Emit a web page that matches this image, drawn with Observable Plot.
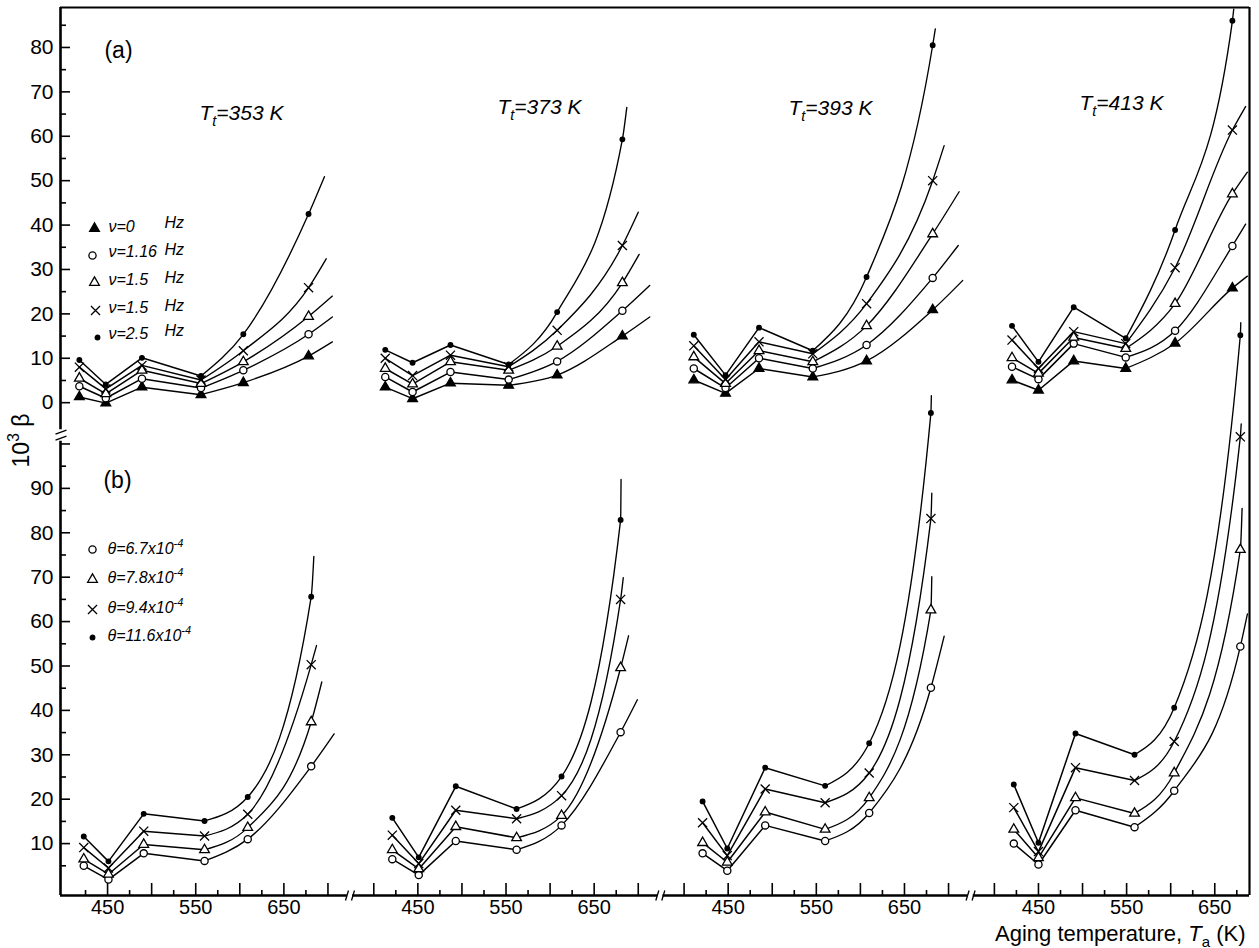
<!DOCTYPE html>
<html>
<head>
<meta charset="utf-8">
<script src="https://cdn.jsdelivr.net/npm/d3@7"></script>
<script src="https://cdn.jsdelivr.net/npm/@observablehq/plot@0.6"></script>
<style>
  html, body { margin: 0; padding: 0; background: #fff; }
  #chart { width: 1259px; height: 948px; }
</style>
</head>
<body>
<div id="chart"></div>
<script>
// ================= DATA =================
// Test temperatures of the four groups
const Tt = [353, 373, 393, 413];

// (a) legend: symbol order  ▲ ν=0, ○ ν=1.16, Δ ν=1.5, x ν=1.5, ● ν=2.5 Hz
const seriesA = ["ν=0", "ν=1.16", "ν=1.5", "ν=1.5", "ν=2.5"];
const symA = ["triFill", "circle", "tri", "times", "dot"];
// (b) legend: ○ 6.7, Δ 7.8, x 9.4, ● 11.6 (x10^-4)
const seriesB = ["6.7", "7.8", "9.4", "11.6"];
const symB = ["circle", "tri", "times", "dot"];

// Aging temperatures (K) of the six measured points in each group
const tempsA = [
  [418, 448, 489, 556, 604, 678],
  [413, 444, 487, 553, 608, 682],
  [411, 447, 485, 546, 607, 682],
  [420, 450, 490, 549, 605, 670]
];
const tempsB = [
  [423, 451, 491, 560, 609, 681],
  [421, 451, 493, 562, 613, 680],
  [421, 449, 492, 560, 610, 680],
  [422, 450, 492, 559, 604, 679]
];

// (a) 10^3 beta, one row per series (▲, ○, Δ, x, ●)
const betaA353 = [
  [1.3, -0.1, 3.5, 1.8, 4.5, 10.5],
  [3.7, 1.0, 5.4, 3.3, 7.3, 15.4],
  [5.5, 2.0, 7.3, 4.3, 9.2, 19.4],
  [8.0, 3.1, 8.4, 5.1, 11.7, 25.9],
  [9.6, 4.1, 10.1, 6.0, 15.4, 42.5]
];
const betaA373 = [
  [3.5, 0.9, 4.4, 3.9, 6.2, 15.0],
  [5.8, 2.4, 6.9, 5.2, 9.3, 20.7],
  [7.7, 4.2, 9.2, 7.3, 12.7, 27.0],
  [10.0, 6.1, 10.7, 8.1, 16.3, 35.4],
  [11.9, 9.0, 13.0, 8.6, 20.4, 59.3]
];
const betaA393 = [
  [5.1, 2.1, 7.7, 5.8, 9.4, 20.9],
  [7.7, 3.3, 10.0, 7.7, 13.0, 28.1],
  [10.3, 4.3, 11.7, 9.2, 17.3, 38.0],
  [12.8, 5.2, 13.7, 11.0, 22.3, 50.0],
  [15.3, 6.2, 16.9, 11.7, 28.3, 80.5]
];
const betaA413 = [
  [5.1, 2.8, 9.4, 7.7, 13.4, 25.8],
  [8.1, 5.3, 13.3, 10.2, 16.2, 35.3],
  [10.1, 6.6, 14.7, 12.2, 22.3, 47.0],
  [14.1, 7.7, 16.0, 13.3, 30.4, 61.4],
  [17.3, 9.2, 21.5, 14.5, 38.9, 86.0]
];
// (a) where each fitted curve ends beyond the last point: [T, 10^3 beta]
const endA353 = [[705, 13.7], [705, 19.3], [705, 24.0], [698, 32.4], [696, 50.9]];
const endA373 = [[713, 19.3], [713, 26.4], [701, 33.4], [700, 42.9], [687, 66.5]];
const endA393 = [[716, 27.5], [711, 35.4], [712, 47.5], [695, 57.9], [685, 84.2]];
const endA413 = [[687, 28.5], [685, 40.2], [687, 51.9], [685, 66.7], [671.5, 88.6]];

// (b) 10^3 beta, one row per series (○, Δ, x, ●)
const betaB353 = [
  [5.0, 1.9, 7.8, 6.1, 11.0, 27.4],
  [6.5, 3.1, 9.8, 8.6, 13.6, 37.4],
  [9.1, 4.5, 12.8, 11.7, 16.6, 50.3],
  [11.6, 6.0, 16.7, 15.1, 20.5, 65.6]
];
const betaB373 = [
  [6.5, 2.9, 10.6, 8.6, 14.1, 35.1],
  [8.6, 4.3, 13.8, 11.3, 16.3, 49.6],
  [11.9, 5.5, 17.5, 15.6, 20.8, 65.0],
  [15.8, 6.9, 22.9, 17.8, 25.1, 82.9]
];
const betaB393 = [
  [7.8, 3.9, 14.1, 10.6, 16.9, 45.1],
  [10.2, 5.8, 17.1, 13.2, 20.3, 62.6],
  [14.7, 7.3, 22.3, 19.2, 25.9, 83.2],
  [19.5, 8.9, 27.1, 23.0, 32.6, 107.0]
];
const betaB413 = [
  [10.0, 5.3, 17.5, 13.7, 21.9, 54.4],
  [13.2, 6.8, 20.3, 16.8, 25.9, 76.2],
  [18.1, 8.2, 27.1, 24.2, 33.0, 101.6],
  [23.3, 10.2, 34.8, 30.0, 40.6, 124.5]
];
const endB353 = [[707, 34.7], [693, 46.4], [687, 54.6], [684, 74.7]];
const endB373 = [[699, 42.4], [689, 56.8], [683, 69.9], [680.5, 92.0]];
const endB393 = [[695, 56.7], [681, 70.1], [681, 88.9], [680.5, 110.9]];
const endB413 = [[687, 61.7], [681, 85.5], [680, 104.5], [679.5, 127.3]];

// Axis ticks
const xTickT = [400, 425, 450, 475, 500, 525, 550, 575, 600, 625, 650, 675, 700];
const xLabelT = [450, 550, 650];
const yTicksA = [0, 5, 10, 15, 20, 25, 30, 35, 40, 45, 50, 55, 60, 65, 70, 75, 80, 85];
const yLabelsA = [0, 10, 20, 30, 40, 50, 60, 70, 80];
const yTicksB = [5, 10, 15, 20, 25, 30, 35, 40, 45, 50, 55, 60, 65, 70, 75, 80, 85, 90, 95, 100];
const yLabelsB = [10, 20, 30, 40, 50, 60, 70, 80, 90];

// ================= LAYOUT =================
const W = 1259, H = 948, ML = 60, MR = 10, MT = 7, MB = 53;
const innerW = W - ML - MR, innerH = H - MT - MB;
const panelOffset = 352;      // virtual K between the four broken x segments
const offsetA = 109.3;        // virtual y offset of panel (a) above panel (b)
const breakT = 725;           // x-axis break inside each group
const xDomain = [396.6, 1745.4];
const yDomain = [-1.69, 198.3];
const yBreak = 101.9, yGapHi = 103.2, yGapLo = 100.6;
const FONT = "Liberation Sans, Arial, Helvetica, sans-serif";

const betaA = [betaA353, betaA373, betaA393, betaA413];
const endA = [endA353, endA373, endA393, endA413];
const betaB = [betaB353, betaB373, betaB393, betaB413];
const endB = [endB353, endB373, endB393, endB413];

function buildRows(temps, betas, ends, syms, part, yOff) {
  const pts = [], straight = [], smooth = [];
  temps.forEach((tk, k) => {
    betas[k].forEach((vals, s) => {
      const key = `${part}${k}-${s}`;
      vals.forEach((v, i) => {
        const row = {u: tk[i] + k * panelOffset, y: v + yOff, key, sym: syms[s]};
        pts.push(row);
        if (i <= 3) straight.push(row);
        if (i >= 3) smooth.push(row);
      });
      const [eT, eV] = ends[k][s];
      smooth.push({u: eT + k * panelOffset, y: eV + yOff, key, sym: syms[s]});
    });
  });
  return {pts, straight, smooth};
}
const A = buildRows(tempsA, betaA, endA, symA, "A", offsetA);
const B = buildRows(tempsB, betaB, endB, symB, "B", 0);
const allPts = A.pts.concat(B.pts);
const allStraight = A.straight.concat(B.straight);
const allSmooth = A.smooth.concat(B.smooth);

const symStyle = {
  triFill: {symbol: "triangle", fill: "black", stroke: "black", r: 3.6},
  circle:  {symbol: "circle", fill: "white", stroke: "black", r: 3.6},
  tri:     {symbol: "triangle", fill: "white", stroke: "black", r: 3.6},
  times:   {symbol: "times", fill: "none", stroke: "black", r: 4.2},
  dot:     {symbol: "circle", fill: "black", stroke: "black", r: 2.3}
};

// x ticks for every group
const xTicks = [];
for (let k = 0; k < 4; k++) {
  const left = k === 0 ? xDomain[0] : breakT + (k - 1) * panelOffset;
  const right = k === 3 ? xDomain[1] : breakT + k * panelOffset;
  xTickT.forEach(t => {
    const u = t + k * panelOffset;
    if (u > left + 6 && u < right - 6) xTicks.push({u, major: t % 50 === 0});
  });
}
const xLabels = [];
for (let k = 0; k < 4; k++) xLabelT.forEach(t => xLabels.push({u: t + k * panelOffset, t}));

// bottom axis segments with gaps at the breaks
const xSegs = [];
{
  let start = xDomain[0];
  for (let k = 0; k < 3; k++) {
    const b = breakT + k * panelOffset;
    xSegs.push([start, b - 3]);
    start = b + 3;
  }
  xSegs.push([start, xDomain[1]]);
}
const xBreaks = [0, 1, 2].map(k => breakT + k * panelOffset);

const xBreakSym = {draw(ctx) { ctx.moveTo(-4.5, 5); ctx.lineTo(-1.5, -5); ctx.moveTo(1.5, 5); ctx.lineTo(4.5, -5); }};
const yBreakSym = {draw(ctx) { ctx.moveTo(-5, -1.5); ctx.lineTo(6, -5.5); ctx.moveTo(-5, 4.5); ctx.lineTo(6, 0.5); }};

const ann = (str, px, py, o = {}) => Plot.text([str], {
  text: d => d, frameAnchor: "top-left", dx: px - ML, dy: py - MT,
  textAnchor: "middle", lineAnchor: "middle",
  fontFamily: FONT, fill: "black", ...o
});
const legendDot = (name, px, py) => Plot.dot([0], {
  frameAnchor: "top-left", dx: px - ML, dy: py - MT, strokeWidth: 1.3, ...symStyle[name]
});

// legend layout
const legA = [[94, 228, 226, 222], [92, 255, 251, 249], [94, 282, 279, 277], [95, 310, 307, 305], [97, 337, 333, 330]];
const legB = [[92, 549, 548], [92, 579, 577], [92, 609, 607], [92, 637, 635]];
const titleXY = [[241, 113], [539, 107], [830, 108], [1121, 103]];

const marks = [
  // frame: top and right borders
  Plot.ruleY([yDomain[1]], {strokeWidth: 2.2}),
  Plot.ruleX([xDomain[1]], {strokeWidth: 2.2}),
  // left axis with break
  Plot.ruleX([xDomain[0]], {y1: yGapHi, y2: yDomain[1], strokeWidth: 2.6}),
  Plot.ruleX([xDomain[0]], {y1: yDomain[0], y2: yGapLo, strokeWidth: 2.6}),
  Plot.dot([0], {x: () => xDomain[0], y: () => yBreak, symbol: yBreakSym, fill: "none", stroke: "black", strokeWidth: 1.4}),
  // bottom axis with breaks
  Plot.ruleY(xSegs, {y: () => yDomain[0], x1: d => d[0], x2: d => d[1], strokeWidth: 2.6}),
  Plot.dot(xBreaks, {x: d => d, y: () => yDomain[0], symbol: xBreakSym, fill: "none", stroke: "black", strokeWidth: 1.3}),
  // ticks (inward)
  Plot.tickY(yTicksA.filter(v => v % 10 === 0), {y: v => v + offsetA, insetRight: innerW - 10, strokeWidth: 1.6}),
  Plot.tickY(yTicksA.filter(v => v % 10 !== 0), {y: v => v + offsetA, insetRight: innerW - 6, strokeWidth: 1.6}),
  Plot.tickY(yTicksB.filter(v => v % 10 === 0), {y: v => v, insetRight: innerW - 10, strokeWidth: 1.6}),
  Plot.tickY(yTicksB.filter(v => v % 10 !== 0), {y: v => v, insetRight: innerW - 6, strokeWidth: 1.6}),
  Plot.tickX(xTicks.filter(d => d.major), {x: "u", insetTop: innerH - 12, strokeWidth: 1.6}),
  Plot.tickX(xTicks.filter(d => !d.major), {x: "u", insetTop: innerH - 5, strokeWidth: 1.6}),
  // tick labels
  Plot.text(yLabelsA, {y: v => v + offsetA, text: v => String(v), frameAnchor: "left", textAnchor: "end", lineAnchor: "middle", dx: -7, fontSize: 21, fontFamily: FONT, ariaLabel: "ya-labels"}),
  Plot.text(yLabelsB, {y: v => v, text: v => String(v), frameAnchor: "left", textAnchor: "end", lineAnchor: "middle", dx: -7, fontSize: 21, fontFamily: FONT}),
  Plot.text(xLabels, {x: "u", text: d => String(d.t), frameAnchor: "bottom", lineAnchor: "middle", dy: 12, fontSize: 20, fontFamily: FONT}),
  // data lines
  Plot.line(allStraight, {x: "u", y: "y", z: "key", stroke: "black", strokeWidth: 1.5}),
  Plot.line(allSmooth, {x: "u", y: "y", z: "key", stroke: "black", strokeWidth: 1.35, curve: "monotone-x"}),
  // data symbols
  ...Object.keys(symStyle).map(name =>
    Plot.dot(allPts.filter(d => d.sym === name), {x: "u", y: "y", strokeWidth: 1.3, ...symStyle[name]})
  ),
  // annotations
  ann("(a)", 118, 50, {fontSize: 23}),
  ann("(b)", 117, 480, {fontSize: 23}),
  ...Tt.map((t, k) => ann(`T_{t}=${t} K`, titleXY[k][0], titleXY[k][1], {fontSize: 21, fontStyle: "italic", ariaLabel: "title"})),
  ann("10^{3} β", 21, 440, {fontSize: 23, rotate: -90}),
  ann("Aging temperature, *{T}_{a} (K)", 1245, 933, {fontSize: 22, textAnchor: "end"}),
  // legend (a)
  ...legA.map((p, s) => legendDot(symA[s], p[0], p[1])),
  ...legA.map((p, s) => ann(seriesA[s], 108, p[2], {fontSize: 16, fontStyle: "italic", textAnchor: "start"})),
  ...legA.map(p => ann("Hz", 164, p[3], {fontSize: 16, fontStyle: "italic", textAnchor: "start"})),
  // legend (b)
  ...legB.map((p, s) => legendDot(symB[s], p[0], p[1])),
  ...legB.map((p, s) => ann(`θ=${seriesB[s]}x10^{-4}`, 107, p[2], {fontSize: 16, fontStyle: "italic", textAnchor: "start"}))
];

const svg = Plot.plot({
  width: W, height: H,
  marginLeft: ML, marginRight: MR, marginTop: MT, marginBottom: MB,
  x: {domain: xDomain, axis: null},
  y: {domain: yDomain, axis: null},
  style: {background: "white", color: "black", fontFamily: FONT, overflow: "visible"},
  marks
});
document.getElementById("chart").appendChild(svg);

// rich text: _{sub}, ^{sup}, *{italic}
function richify(root) {
  const NS = "http://www.w3.org/2000/svg";
  root.querySelectorAll("text").forEach(el => {
    const s = el.textContent;
    if (!/[_^*]\{/.test(s)) return;
    const fs = parseFloat(getComputedStyle(el).fontSize) || 16;
    el.textContent = "";
    const re = /([_^*])\{([^}]*)\}/g;
    let last = 0, m, shift = 0;
    const add = (txt, kind) => {
      const t = document.createElementNS(NS, "tspan");
      t.textContent = txt;
      let target = 0;
      if (kind === "_") { target = fs * 0.28; t.setAttribute("font-size", (fs * 0.68).toFixed(1)); }
      else if (kind === "^") { target = -fs * 0.42; t.setAttribute("font-size", (fs * 0.68).toFixed(1)); }
      else if (kind === "*") { t.setAttribute("font-style", "italic"); }
      const d = target - shift;
      if (d) t.setAttribute("dy", d.toFixed(1));
      shift = target;
      el.appendChild(t);
    };
    while ((m = re.exec(s))) {
      if (m.index > last) add(s.slice(last, m.index), "");
      add(m[2], m[1]);
      last = re.lastIndex;
    }
    if (last < s.length) add(s.slice(last), "");
  });
}
richify(svg);
svg.querySelectorAll('g[aria-label="ya-labels"] text').forEach(t => { t.style.letterSpacing = "4px"; });
svg.querySelectorAll('g[aria-label="title"] text').forEach(t => { t.style.letterSpacing = "1.5px"; });
</script>
</body>
</html>
